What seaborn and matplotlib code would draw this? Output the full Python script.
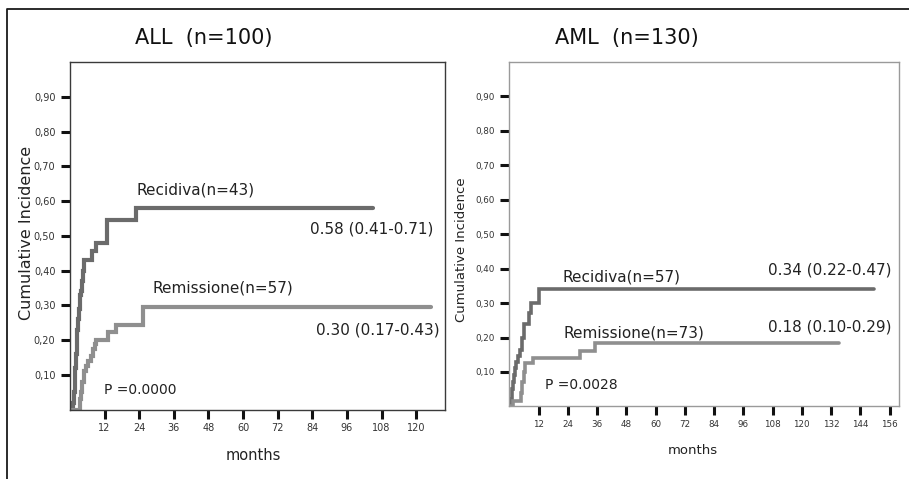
import numpy as np
import pandas as pd
import matplotlib
matplotlib.use("Agg")
import matplotlib.pyplot as plt
from matplotlib.lines import Line2D
import seaborn as sns

# ---------------- data ----------------
all_rec_t = [0, 1.0, 1.3, 1.6, 1.9, 2.1, 2.3, 2.6, 2.9, 3.1, 3.4, 3.9, 4.2, 4.5, 4.8, 7.5, 9.0, 13.0, 23.0, 105.0]
all_rec_v = [0, 0.02, 0.05, 0.08, 0.12, 0.16, 0.19, 0.23, 0.26, 0.29, 0.33, 0.34, 0.37, 0.40, 0.43, 0.455, 0.48, 0.545, 0.58, 0.58]
all_rem_t = [0, 3.3, 3.8, 4.3, 5.0, 5.6, 6.2, 7.3, 8.0, 8.6, 9.1, 13.2, 16.1, 25.3, 125.0]
all_rem_v = [0, 0.03, 0.05, 0.08, 0.11, 0.125, 0.14, 0.155, 0.175, 0.19, 0.20, 0.222, 0.244, 0.295, 0.295]

aml_rec_t = [0, 0.7, 1.0, 1.4, 1.8, 2.2, 2.7, 3.5, 4.2, 5.3, 5.8, 8.2, 8.8, 12.3, 149.5]
aml_rec_v = [0, 0.02, 0.05, 0.07, 0.09, 0.11, 0.13, 0.145, 0.165, 0.20, 0.24, 0.27, 0.30, 0.34, 0.34]
aml_rem_t = [0, 1.3, 4.8, 5.3, 5.8, 6.5, 9.6, 28.8, 34.9, 135.3]
aml_rem_v = [0, 0.016, 0.04, 0.07, 0.10, 0.125, 0.14, 0.162, 0.185, 0.185]

titles = ["ALL  (n=100)", "AML  (n=130)"]
rec_labels = ["Recidiva(n=43)", "Recidiva(n=57)"]
rem_labels = ["Remissione(n=57)", "Remissione(n=73)"]
rec_ci = ["0.58 (0.41-0.71)", "0.34 (0.22-0.47)"]
rem_ci = ["0.30 (0.17-0.43)", "0.18 (0.10-0.29)"]
p_values = ["P =0.0000", "P =0.0028"]
y_ticks = [0.1, 0.2, 0.3, 0.4, 0.5, 0.6, 0.7, 0.8, 0.9]
y_ticklabels = ["0,10", "0,20", "0,30", "0,40", "0,50", "0,60", "0,70", "0,80", "0,90"]
x_ticks_all = [12, 24, 36, 48, 60, 72, 84, 96, 108, 120]
x_ticks_aml = [12, 24, 36, 48, 60, 72, 84, 96, 108, 120, 132, 144, 156]

# ---------------- style ----------------
sns.set_theme(style="white")
plt.rcParams["font.family"] = ["DejaVu Sans"]

fig = plt.figure(figsize=(9.09, 4.79), dpi=100)
fig.patch.set_facecolor("white")

def make_df(rt, rv, mt, mv):
    return pd.concat([
        pd.DataFrame({"month": rt, "ci": rv, "grp": "Recidiva"}),
        pd.DataFrame({"month": mt, "ci": mv, "grp": "Remissione"}),
    ], ignore_index=True)

dfs = [make_df(all_rec_t, all_rec_v, all_rem_t, all_rem_v),
       make_df(aml_rec_t, aml_rec_v, aml_rem_t, aml_rem_v)]
palette = {"Recidiva": "#6b6b6b", "Remissione": "#8f8f8f"}

positions = [[0.0770, 0.1447, 0.4125, 0.7259], [0.5605, 0.1516, 0.4288, 0.7190]]
xlims = [130, 160]
xtick_sets = [x_ticks_all, x_ticks_aml]
spine_colors = ["#3a3a3a", "#9a9a9a"]
lws = [3.0, 2.6]

# text positions (data coords)
rec_lab_xy = [(23.1, 0.633), (21.6, 0.376)]
rec_ci_xy = [(125.9, 0.521), (156.7, 0.397)]
rem_lab_xy = [(28.7, 0.351), (22.2, 0.214)]
rem_ci_xy = [(128.3, 0.230), (156.7, 0.231)]
p_xy = [(11.7, 0.057), (14.7, 0.062)]
ann_fs = [11.0, 11.0]
tick_fs = [7.0, 6.3]

for i in range(2):
    ax = fig.add_axes(positions[i])
    sns.lineplot(data=dfs[i], x="month", y="ci", hue="grp", palette=palette,
                 estimator=None, drawstyle="steps-post", linewidth=lws[i],
                 legend=False, ax=ax, solid_joinstyle="miter")
    ax.set_xlim(0, xlims[i])
    ax.set_ylim(0, 1.0)
    ax.set_xticks(xtick_sets[i])
    ax.set_xticklabels([str(t) for t in xtick_sets[i]])
    ax.set_yticks(y_ticks)
    ax.set_yticklabels(y_ticklabels)
    ax.tick_params(axis="both", which="major", direction="out", length=6.5, width=2.2,
                   color="#111111", labelsize=tick_fs[i], labelcolor="#333333", pad=4,
                   bottom=True, left=True)
    ax.tick_params(axis="x", pad=3)
    ax.set_xlabel("")
    ax.set_ylabel("")
    for s in ax.spines.values():
        s.set_visible(True)
        s.set_color(spine_colors[i])
        s.set_linewidth(1.0)
    ax.set_facecolor("white")

    ax.text(*rec_lab_xy[i], rec_labels[i], fontsize=ann_fs[i], ha="left", va="center", color="#222222")
    ax.text(*rec_ci_xy[i], rec_ci[i], fontsize=ann_fs[i], ha="right", va="center", color="#222222")
    ax.text(*rem_lab_xy[i], rem_labels[i], fontsize=ann_fs[i], ha="left", va="center", color="#222222")
    ax.text(*rem_ci_xy[i], rem_ci[i], fontsize=ann_fs[i], ha="right", va="center", color="#222222")
    ax.text(*p_xy[i], p_values[i], fontsize=10, ha="left", va="center", color="#222222")

# titles and axis labels
fig.text(0.2244, 0.9207, titles[0], fontsize=15, ha="center", va="center", color="#111111")
fig.text(0.690, 0.9207, titles[1], fontsize=15, ha="center", va="center", color="#111111")
fig.text(0.0297, 0.5136, "Cumulative Incidence", fontsize=11.5, rotation=90, ha="center", va="center", color="#222222")
fig.text(0.5072, 0.478, "Cumulative Incidence", fontsize=9.5, rotation=90, ha="center", va="center", color="#222222")
fig.text(0.2783, 0.0501, "months", fontsize=10.5, ha="center", va="center", color="#222222")
fig.text(0.7624, 0.0605, "months", fontsize=9.5, ha="center", va="center", color="#222222")

# outer frame (top and left)
fx = 6.5 / 909
fy = 1 - 9 / 479
fig.add_artist(Line2D([fx, fx, 1.0], [0.0, fy, fy], transform=fig.transFigure,
                      color="#1a1a1a", linewidth=1.3))

fig.savefig("out.png", dpi=100, facecolor="white")
